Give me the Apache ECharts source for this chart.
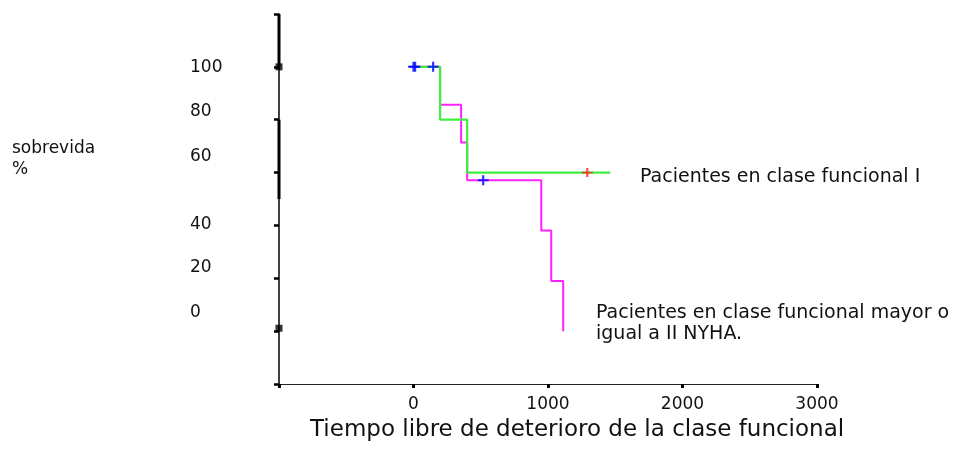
<!DOCTYPE html>
<html>
<head>
<meta charset="utf-8">
<script src="https://cdn.jsdelivr.net/npm/echarts@6/dist/echarts.min.js"></script>
<style>
  html, body { margin: 0; padding: 0; background: #fff; }
  #chart { width: 959px; height: 470px; }
</style>
</head>
<body>
<div id="chart"></div>
<script>
// Kaplan-Meier curves, time in days, survival in %
const classITime = [0, 198, 399, 1463]
const classISurv = [100, 80, 60, 60]
const classIIPlusTime = [0, 198, 354, 399, 950, 1024, 1113]
const classIIPlusSurv = [100, 85.7, 71.4, 57.1, 38.1, 19.0, 0]

// censored cases
const blueCensorTime = [0, 12, 146, 518]
const blueCensorSurv = [100, 100, 100, 57.1]
const redCensorTime = [1292]
const redCensorSurv = [60]

// axis texts
const yTickLabels = ['100', '80', '60', '40', '20', '0']
const xTitle = 'Tiempo libre de deterioro de la clase funcional'
const yTitle = 'sobrevida\n%'
const classILabel = 'Pacientes en clase funcional I'
const classIIPlusLabel = 'Pacientes en clase funcional mayor o\nigual a II NYHA.'

// where the odd y labels sit in the original (pixel rows)
const yLabelRows = [68, 112, 157, 225, 268, 313]

const font = 'DejaVu Sans'
const zip = (a, b) => a.map((v, i) => [v, b[i]])
const cross = 'path://M4,0H6V4H10V6H6V10H4V6H0V4H4Z'

const chart = echarts.init(document.getElementById('chart'))

const graphic = yTickLabels.map((t, i) => ({
  type: 'text',
  left: 190,
  top: yLabelRows[i] - 9,
  style: { text: t, font: '17px ' + font, fill: '#111' }
}))
graphic.push(
  { type: 'text', left: 12, top: 138, style: { text: yTitle, font: '17px ' + font, fill: '#111', lineHeight: 21 } },
  { type: 'text', left: 310, top: 419, style: { text: xTitle, font: '23px ' + font, fill: '#111' } },
  { type: 'text', left: 640, top: 168, style: { text: classILabel, font: '19px ' + font, fill: '#111' } },
  { type: 'text', left: 596, top: 303, style: { text: classIIPlusLabel, font: '19px ' + font, fill: '#111', lineHeight: 21 } }
)

chart.setOption({
  animation: false,
  backgroundColor: '#fff',
  grid: { left: 279, right: 142, top: 14, bottom: 86, containLabel: false },
  xAxis: {
    type: 'value',
    min: -1000,
    max: 3000,
    interval: 1000,
    axisLine: { onZero: false, lineStyle: { color: '#222', width: 1 } },
    axisTick: { length: 4, lineStyle: { color: '#000', width: 3 } },
    splitLine: { show: false },
    axisLabel: {
      margin: 12,
      fontFamily: font,
      fontSize: 17,
      color: '#111',
      formatter: v => (v < 0 ? '' : String(v))
    }
  },
  yAxis: {
    type: 'value',
    min: -20,
    max: 120,
    interval: 20,
    axisLine: { onZero: false, lineStyle: { color: '#000', width: 1.5 } },
    axisTick: { length: 5, lineStyle: { color: '#000', width: 2.5 } },
    splitLine: { show: false },
    axisLabel: { show: false }
  },
  graphic: graphic,
  series: [
    {
      // thick bits of the y axis line
      type: 'line',
      data: [[-1000, 120], [-1000, 100], [-1000, '-'], [-1000, 80], [-1000, 50]],
      showSymbol: false,
      lineStyle: { color: '#000', width: 3 },
      clip: false,
      silent: true,
      z: 3
    },
    {
      type: 'scatter',
      data: [[-1000, 100], [-1000, 1.1]],
      symbol: 'rect',
      symbolSize: 7,
      itemStyle: { color: '#000' },
      clip: false,
      silent: true,
      z: 3
    },
    {
      name: classIIPlusLabel,
      type: 'line',
      step: 'end',
      data: zip(classIIPlusTime, classIIPlusSurv),
      showSymbol: false,
      lineStyle: { color: '#ff22ff', width: 2 },
      z: 4
    },
    {
      name: classILabel,
      type: 'line',
      step: 'end',
      data: zip(classITime, classISurv),
      showSymbol: false,
      lineStyle: { color: '#40f040', width: 2.2 },
      z: 5
    },
    {
      type: 'scatter',
      data: zip(blueCensorTime, blueCensorSurv),
      symbol: cross,
      symbolSize: [11, 10],
      itemStyle: { color: '#0000ff' },
      clip: false,
      z: 6
    },
    {
      type: 'scatter',
      data: zip(redCensorTime, redCensorSurv),
      symbol: cross,
      symbolSize: [11, 9],
      itemStyle: { color: '#ff2020' },
      clip: false,
      z: 6
    }
  ]
})
</script>
</body>
</html>
